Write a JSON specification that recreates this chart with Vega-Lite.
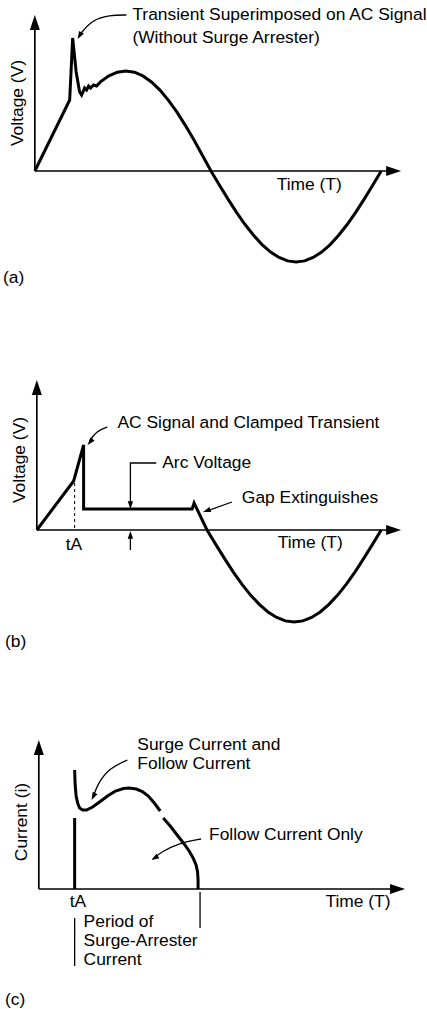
{
 "$schema": "https://vega.github.io/schema/vega-lite/v6.json",
 "width": 427, "height": 1009,
 "autosize": {"type": "fit", "contains": "padding"},
 "padding": 0,
 "background": "white",
 "config": {"view": {"stroke": null}, "text": {"font": "Liberation Sans", "fontSize": 17.4, "color": "black"}},
 "datasets": {
  "curves": [
   {"seg":"a","x":35,"y":171},{"seg":"a","x":70,"y":100},{"seg":"a","x":73,"y":38},{"seg":"a","x":76.5,"y":72},{"seg":"a","x":80,"y":92},{"seg":"a","x":82,"y":95},{"seg":"a","x":85,"y":88},{"seg":"a","x":87,"y":90},{"seg":"a","x":89,"y":86},{"seg":"a","x":91,"y":88},{"seg":"a","x":94,"y":85},{"seg":"a","x":97,"y":86},
   {"seg":"a","x":100.9,"y":81.9},{"seg":"a","x":109.4,"y":75.9},{"seg":"a","x":117.95,"y":72.2},{"seg":"a","x":126.5,"y":71},{"seg":"a","x":135.05,"y":72.2},{"seg":"a","x":143.6,"y":75.9},{"seg":"a","x":152.15,"y":81.9},{"seg":"a","x":160.7,"y":90.1},{"seg":"a","x":169.25,"y":100.3},{"seg":"a","x":177.8,"y":112.2},{"seg":"a","x":186.35,"y":125.6},{"seg":"a","x":194.9,"y":140.1},{"seg":"a","x":203.45,"y":155.4},{"seg":"a","x":212,"y":171},
   {"seg":"a","x":220.55,"y":185.2},{"seg":"a","x":229.1,"y":199.1},{"seg":"a","x":237.65,"y":212.3},{"seg":"a","x":246.2,"y":224.5},{"seg":"a","x":254.75,"y":235.3},{"seg":"a","x":263.3,"y":244.6},{"seg":"a","x":271.85,"y":252.1},{"seg":"a","x":280.4,"y":257.5},{"seg":"a","x":288.95,"y":260.9},{"seg":"a","x":297.5,"y":262},{"seg":"a","x":306.05,"y":260.9},{"seg":"a","x":314.6,"y":257.5},{"seg":"a","x":323.15,"y":252.1},{"seg":"a","x":331.7,"y":244.6},{"seg":"a","x":340.25,"y":235.3},{"seg":"a","x":348.8,"y":224.5},{"seg":"a","x":357.35,"y":212.3},{"seg":"a","x":365.9,"y":199.1},{"seg":"a","x":374.45,"y":185.2},{"seg":"a","x":383,"y":171},
   {"seg":"b","x":37,"y":530},{"seg":"b","x":74,"y":481},{"seg":"b","x":84,"y":445},{"seg":"b","x":84,"y":509},{"seg":"b","x":193,"y":509},{"seg":"b","x":195,"y":503},{"seg":"b","x":208,"y":530},
   {"seg":"b","x":216.75,"y":544.4},{"seg":"b","x":225.5,"y":558.4},{"seg":"b","x":234.25,"y":571.8},{"seg":"b","x":243,"y":584.1},{"seg":"b","x":251.75,"y":595.1},{"seg":"b","x":260.5,"y":604.4},{"seg":"b","x":269.25,"y":612},{"seg":"b","x":278,"y":617.5},{"seg":"b","x":286.75,"y":620.9},{"seg":"b","x":295.5,"y":622},{"seg":"b","x":304.25,"y":620.9},{"seg":"b","x":313,"y":617.5},{"seg":"b","x":321.75,"y":612},{"seg":"b","x":330.5,"y":604.4},{"seg":"b","x":339.25,"y":595.1},{"seg":"b","x":348,"y":584.1},{"seg":"b","x":356.75,"y":571.8},{"seg":"b","x":365.5,"y":558.4},{"seg":"b","x":374.25,"y":544.4},{"seg":"b","x":383,"y":530},
   {"seg":"c1","x":75,"y":770},{"seg":"c1","x":75.5,"y":785},{"seg":"c1","x":76.5,"y":796},{"seg":"c1","x":78,"y":803},{"seg":"c1","x":80,"y":808},{"seg":"c1","x":83,"y":810},{"seg":"c1","x":87,"y":810},{"seg":"c1","x":93,"y":807},{"seg":"c1","x":100,"y":802},{"seg":"c1","x":108,"y":796},{"seg":"c1","x":116,"y":791},{"seg":"c1","x":124,"y":788.5},{"seg":"c1","x":130,"y":788},{"seg":"c1","x":137,"y":789},{"seg":"c1","x":143,"y":791.5},{"seg":"c1","x":149,"y":796},{"seg":"c1","x":155,"y":803},{"seg":"c1","x":161,"y":811},
   {"seg":"c2","x":164,"y":818},{"seg":"c2","x":171,"y":826},{"seg":"c2","x":178,"y":835},{"seg":"c2","x":185,"y":844},{"seg":"c2","x":190,"y":851},{"seg":"c2","x":194,"y":858},{"seg":"c2","x":197,"y":865},{"seg":"c2","x":198.5,"y":872},{"seg":"c2","x":199,"y":880},{"seg":"c2","x":199,"y":889},
   {"seg":"c3","x":75,"y":818},{"seg":"c3","x":75,"y":889}
  ],
  "axes": [
   {"seg":"ay","x":35,"y":28},{"seg":"ay","x":35,"y":171},{"seg":"ax","x":35,"y":171},{"seg":"ax","x":392,"y":171},
   {"seg":"by","x":37,"y":392},{"seg":"by","x":37,"y":530},{"seg":"bx","x":37,"y":530},{"seg":"bx","x":392,"y":530},
   {"seg":"cy","x":39,"y":752},{"seg":"cy","x":39,"y":889},{"seg":"cx","x":39,"y":889},{"seg":"cx","x":396,"y":889}
  ],
  "axisHeads": [
   {"x":35,"y":15,"a":0},{"x":403,"y":171,"a":90},
   {"x":37,"y":380,"a":0},{"x":403,"y":530,"a":90},
   {"x":39,"y":740,"a":0},{"x":407,"y":889,"a":90}
  ],
  "thin": [
   {"seg":"arc1","x":157,"y":463},{"seg":"arc1","x":131,"y":463},{"seg":"arc1","x":131,"y":502},
   {"seg":"arc2","x":131,"y":550},{"seg":"arc2","x":131,"y":536},
   {"seg":"gap","x":233,"y":502},{"seg":"gap","x":208,"y":511},
   {"seg":"t1","x":75,"y":918},{"seg":"t1","x":75,"y":966},
   {"seg":"t2","x":201,"y":892},{"seg":"t2","x":201,"y":928}
  ],
  "dashed": [
   {"seg":"d","x":75,"y":483},{"seg":"d","x":75,"y":530}
  ],
  "curvedArrows": [
   {"seg":"pa","x":127,"y":15},{"seg":"pa","x":110,"y":15},{"seg":"pa","x":92,"y":20},{"seg":"pa","x":80,"y":35},
   {"seg":"pb","x":108,"y":427},{"seg":"pb","x":97,"y":431},{"seg":"pb","x":90,"y":441},
   {"seg":"pc","x":128,"y":760},{"seg":"pc","x":110,"y":768},{"seg":"pc","x":98,"y":784},{"seg":"pc","x":94,"y":796},
   {"seg":"pd","x":202,"y":839},{"seg":"pd","x":180,"y":843},{"seg":"pd","x":162,"y":852},{"seg":"pd","x":155,"y":858}
  ],
  "heads": [
   {"x":78,"y":39,"a":210},
   {"x":88,"y":445,"a":220},
   {"x":204,"y":512,"a":251},
   {"x":131,"y":509,"a":180},
   {"x":131,"y":531,"a":0},
   {"x":92,"y":800,"a":207},
   {"x":152,"y":860,"a":239}
  ],
  "labels": [
   {"t":"Transient Superimposed on AC Signal","x":133,"y":15},
   {"t":"(Without Surge Arrester)","x":133,"y":38},
   {"t":"Time (T)","x":278,"y":185},
   {"t":"(a)","x":3,"y":278},
   {"t":"AC Signal and Clamped Transient","x":118,"y":423},
   {"t":"Arc Voltage","x":163,"y":463},
   {"t":"Gap Extinguishes","x":243,"y":498},
   {"t":"tA","x":66,"y":545},
   {"t":"Time (T)","x":279,"y":543},
   {"t":"(b)","x":5,"y":642},
   {"t":"Surge Current and","x":138,"y":745},
   {"t":"Follow Current","x":138,"y":764},
   {"t":"Follow Current Only","x":210,"y":835},
   {"t":"tA","x":70,"y":902},
   {"t":"Time (T)","x":327,"y":902},
   {"t":"Period of","x":84,"y":922},
   {"t":"Surge-Arrester","x":84,"y":941},
   {"t":"Current","x":84,"y":960},
   {"t":"(c)","x":5,"y":1000}
  ],
  "ylabels": [
   {"t":"Voltage (V)","x":18,"y":103},
   {"t":"Voltage (V)","x":20,"y":460},
   {"t":"Current (i)","x":22,"y":822}
  ]
 },
 "encoding": {
  "x": {"field":"x","type":"quantitative","scale":{"domain":[0,427],"nice":false,"zero":false},"axis":null},
  "y": {"field":"y","type":"quantitative","scale":{"domain":[0,1009],"nice":false,"zero":false,"reverse":true},"axis":null}
 },
 "layer": [
  {"data":{"name":"axes"},"mark":{"type":"line","color":"black","strokeWidth":1.7},"encoding":{"detail":{"field":"seg"},"order":{"value":null}}},
  {"data":{"name":"curves"},"mark":{"type":"line","color":"black","strokeWidth":3},"encoding":{"detail":{"field":"seg"},"order":{"value":null}}},
  {"data":{"name":"thin"},"mark":{"type":"line","color":"black","strokeWidth":1.3},"encoding":{"detail":{"field":"seg"},"order":{"value":null}}},
  {"data":{"name":"dashed"},"mark":{"type":"line","color":"black","strokeWidth":1,"strokeDash":[3,3]},"encoding":{"detail":{"field":"seg"},"order":{"value":null}}},
  {"data":{"name":"curvedArrows"},"mark":{"type":"line","color":"black","strokeWidth":1.3,"interpolate":"basis"},"encoding":{"detail":{"field":"seg"},"order":{"value":null}}},
  {"data":{"name":"axisHeads"},"mark":{"type":"point","shape":"M0,0L0.667,2L-0.667,2Z","filled":true,"color":"black","size":225,"opacity":1,"strokeWidth":0},"encoding":{"angle":{"field":"a","type":"quantitative","scale":null}}},
  {"data":{"name":"heads"},"mark":{"type":"point","shape":"M0,0L0.7,2L-0.7,2Z","filled":true,"color":"black","size":60,"opacity":1,"strokeWidth":0},"encoding":{"angle":{"field":"a","type":"quantitative","scale":null}}},
  {"data":{"name":"labels"},"mark":{"type":"text","align":"left","baseline":"middle"},"encoding":{"text":{"field":"t"}}},
  {"data":{"name":"ylabels"},"mark":{"type":"text","align":"center","baseline":"middle","angle":270},"encoding":{"text":{"field":"t"}}}
 ]
}
